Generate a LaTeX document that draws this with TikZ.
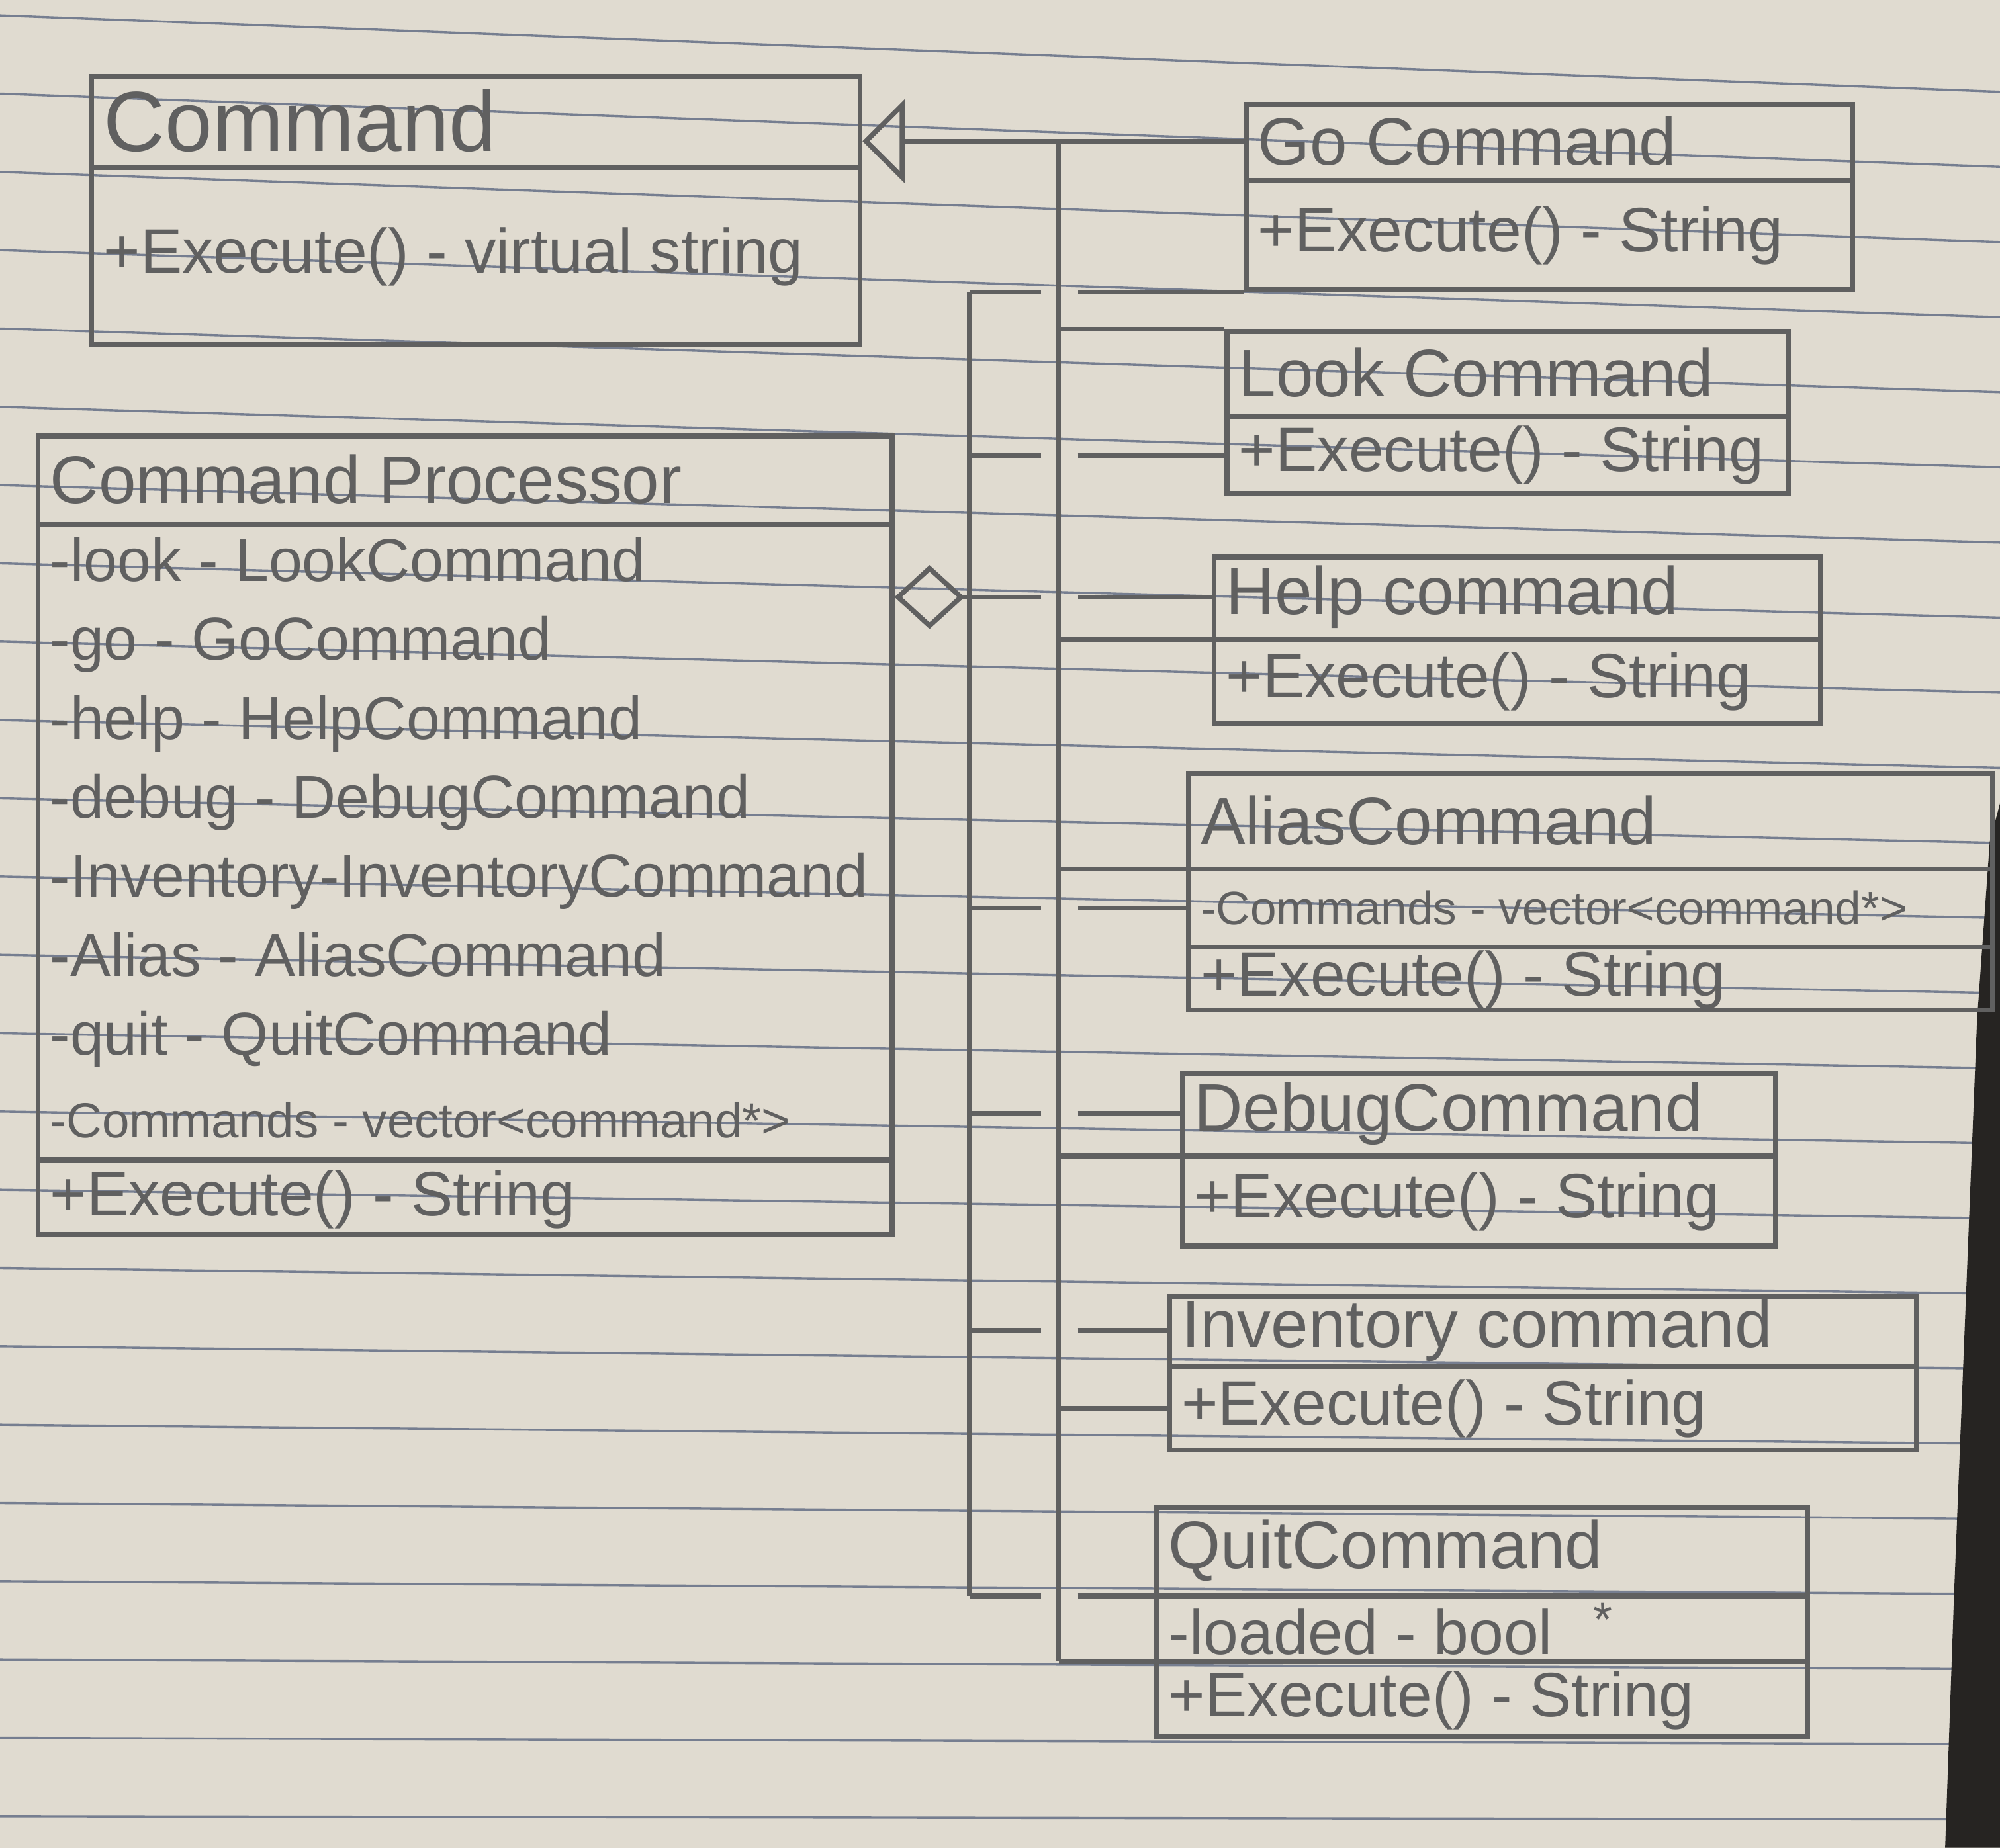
\documentclass[tikz,border=0pt]{standalone}
\usepackage{fontspec}
\setmainfont{Liberation Sans}
\usetikzlibrary{arrows.meta,positioning}

\definecolor{paper}{RGB}{224,219,208}
\definecolor{ruling}{RGB}{118,126,144}
\definecolor{pencil}{RGB}{96,96,96}
\definecolor{desk}{RGB}{38,36,34}

\begin{document}
\begin{tikzpicture}[x=0.01cm,y=-0.01cm,
    class box/.style={draw=pencil, line width=1.1pt, anchor=north west, inner sep=0pt},
    class name/.style={anchor=north west, inner xsep=3pt, inner ysep=0pt, text=pencil, font=\fontsize{15}{18}\selectfont},
    member/.style={anchor=north west, inner xsep=3pt, inner ysep=0pt, text=pencil, font=\fontsize{14}{17}\selectfont},
    divider/.style={draw=pencil, line width=1.1pt},
    gen line/.style={draw=pencil, line width=1.1pt},
    agg line/.style={draw=pencil, line width=1.1pt}]

    % the sheet
    \useasboundingbox (0,0) rectangle (1568,1449);
    \fill[paper] (0,0) rectangle (1568,1449);
    \foreach \k in {0,...,23}
        \draw[ruling, line width=0.5pt] (0,{12+61.4*\k}) -- (1568,{72+58.9*\k});
    \fill[desk] (1568,630) -- (1560,660) -- (1550,800) -- (1542,1000) -- (1532,1250) -- (1525,1449) -- (1568,1449) -- cycle;

    % base class
    \node[class box, minimum width=6.02cm, minimum height=2.1cm] (cmd) at (70,58) {};
    \node[class name, minimum height=0.72cm, font=\fontsize{19}{22}\selectfont] (cmd-name) at (cmd.north west) {Command};
    \draw[divider] (cmd.west |- cmd-name.south) -- (cmd.east |- cmd-name.south);
    \node[member, minimum height=1.38cm] (cmd-op) at (cmd-name.south west) {+Execute() - virtual string};

    % processor
    \node[class box, minimum width=6.69cm, minimum height=6.26cm] (proc) at (28,340) {};
    \node[class name, minimum height=0.7cm] (proc-name) at (proc.north west) {Command Processor};
    \draw[divider] (proc.west |- proc-name.south) -- (proc.east |- proc-name.south);
    \node[member, minimum height=4.34cm, align=left, font=\fontsize{13.5}{17.6}\selectfont] (proc-attr) at (proc-name.south west)
        {-look - LookCommand\\-go - GoCommand\\-help - HelpCommand\\-debug - DebugCommand\\-Inventory-InventoryCommand\\-Alias - AliasCommand\\-quit - QuitCommand};
    \node[member, minimum height=0.61cm, font=\fontsize{11}{13}\selectfont] (proc-vec) at (proc-attr.south west) {-Commands - vector<command*>};
    \draw[divider] (proc.west |- proc-vec.south) -- (proc.east |- proc-vec.south);
    \node[member, minimum height=0.61cm] (proc-op) at (proc-vec.south west) {+Execute() - String};

    % commands
    \node[class box, minimum width=4.75cm, minimum height=1.45cm] (go) at (975,80) {};
    \node[class name, minimum height=0.6cm] (go-name) at (go.north west) {Go Command};
    \draw[divider] (go.west |- go-name.south) -- (go.east |- go-name.south);
    \node[member, minimum height=0.85cm] (go-op) at (go-name.south west) {+Execute() - String};

    \node[class box, minimum width=4.4cm, minimum height=1.27cm] (look) at (960,258) {};
    \node[class name, minimum height=0.67cm] (look-name) at (look.north west) {Look Command};
    \draw[divider] (look.west |- look-name.south) -- (look.east |- look-name.south);
    \node[member, minimum height=0.6cm] (look-op) at (look-name.south west) {+Execute() - String};

    \node[class box, minimum width=4.75cm, minimum height=1.3cm] (help) at (950,435) {};
    \node[class name, minimum height=0.65cm] (help-name) at (help.north west) {Help command};
    \draw[divider] (help.west |- help-name.south) -- (help.east |- help-name.south);
    \node[member, minimum height=0.65cm] (help-op) at (help-name.south west) {+Execute() - String};

    \node[class box, minimum width=6.3cm, minimum height=1.85cm] (alias) at (930,605) {};
    \node[class name, minimum height=0.75cm] (alias-name) at (alias.north west) {AliasCommand};
    \draw[divider] (alias.west |- alias-name.south) -- (alias.east |- alias-name.south);
    \node[member, minimum height=0.6cm, font=\fontsize{10.5}{13}\selectfont] (alias-attr) at (alias-name.south west) {-Commands - vector<command*>};
    \draw[divider] (alias.west |- alias-attr.south) -- (alias.east |- alias-attr.south);
    \node[member, minimum height=0.5cm] (alias-op) at (alias-attr.south west) {+Execute() - String};

    \node[class box, minimum width=4.65cm, minimum height=1.35cm] (debug) at (925,840) {};
    \node[class name, minimum height=0.65cm] (debug-name) at (debug.north west) {DebugCommand};
    \draw[divider] (debug.west |- debug-name.south) -- (debug.east |- debug-name.south);
    \node[member, minimum height=0.7cm] (debug-op) at (debug-name.south west) {+Execute() - String};

    \node[class box, minimum width=5.85cm, minimum height=1.2cm] (inv) at (915,1015) {};
    \node[class name, minimum height=0.55cm] (inv-name) at (inv.north west) {Inventory command};
    \draw[divider] (inv.west |- inv-name.south) -- (inv.east |- inv-name.south);
    \node[member, minimum height=0.65cm] (inv-op) at (inv-name.south west) {+Execute() - String};

    \node[class box, minimum width=5.1cm, minimum height=1.8cm] (quit) at (905,1180) {};
    \node[class name, minimum height=0.7cm] (quit-name) at (quit.north west) {QuitCommand};
    \draw[divider] (quit.west |- quit-name.south) -- (quit.east |- quit-name.south);
    \node[member, minimum height=0.5cm] (quit-attr) at (quit-name.south west) {-loaded - bool\hspace{9pt}\raisebox{4pt}{\fontsize{11}{13}\selectfont *}};
    \draw[divider] (quit.west |- quit-attr.south) -- (quit.east |- quit-attr.south);
    \node[member, minimum height=0.6cm] (quit-op) at (quit-attr.south west) {+Execute() - String};

    % buses
    \coordinate (ibus) at (830,0);
    \coordinate (abus) at (760,0);
    \coordinate (gap-l) at (816,0);
    \coordinate (gap-r) at (845,0);

    % generalisation
    \draw[gen line, -{Triangle[open, length=0.33cm, width=0.65cm]}] (go-name.west) -- (cmd.east |- go-name.west);
    \draw[gen line] (ibus |- go-name.west) -- (ibus |- quit-attr.south);
    \draw[gen line] (ibus |- look.north) -- (look.north west);
    \draw[gen line] (ibus |- help-name.south) -- (help.west |- help-name.south);
    \draw[gen line] (ibus |- alias-name.south) -- (alias.west |- alias-name.south);
    \draw[gen line] (ibus |- debug-name.south) -- (debug.west |- debug-name.south);
    \draw[gen line] (ibus |- inv-op.west) -- (inv-op.west);
    \draw[gen line] (ibus |- quit-attr.south) -- (quit.west |- quit-attr.south);

    % aggregation
    \draw[agg line] (abus |- go.south west) -- (abus |- quit-name.south west);
    \draw[agg line, -{Diamond[open, length=0.55cm, width=0.5cm]}] (abus |- help-name.west) -- (proc.east |- help-name.west);
    \draw[agg line] (abus |- go.south west) -- (gap-l |- go.south west) (gap-r |- go.south west) -- (go.south west);
    \draw[agg line] (abus |- look-op.west) -- (gap-l |- look-op.west) (gap-r |- look-op.west) -- (look-op.west);
    \draw[agg line] (abus |- help-name.west) -- (gap-l |- help-name.west) (gap-r |- help-name.west) -- (help-name.west);
    \draw[agg line] (abus |- alias-attr.west) -- (gap-l |- alias-attr.west) (gap-r |- alias-attr.west) -- (alias-attr.west);
    \draw[agg line] (abus |- debug-name.west) -- (gap-l |- debug-name.west) (gap-r |- debug-name.west) -- (debug-name.west);
    \draw[agg line] (abus |- inv-name.west) -- (gap-l |- inv-name.west) (gap-r |- inv-name.west) -- (inv-name.west);
    \draw[agg line] (abus |- quit-name.south west) -- (gap-l |- quit-name.south west) (gap-r |- quit-name.south west) -- (quit-name.south west);
\end{tikzpicture}
\end{document}
